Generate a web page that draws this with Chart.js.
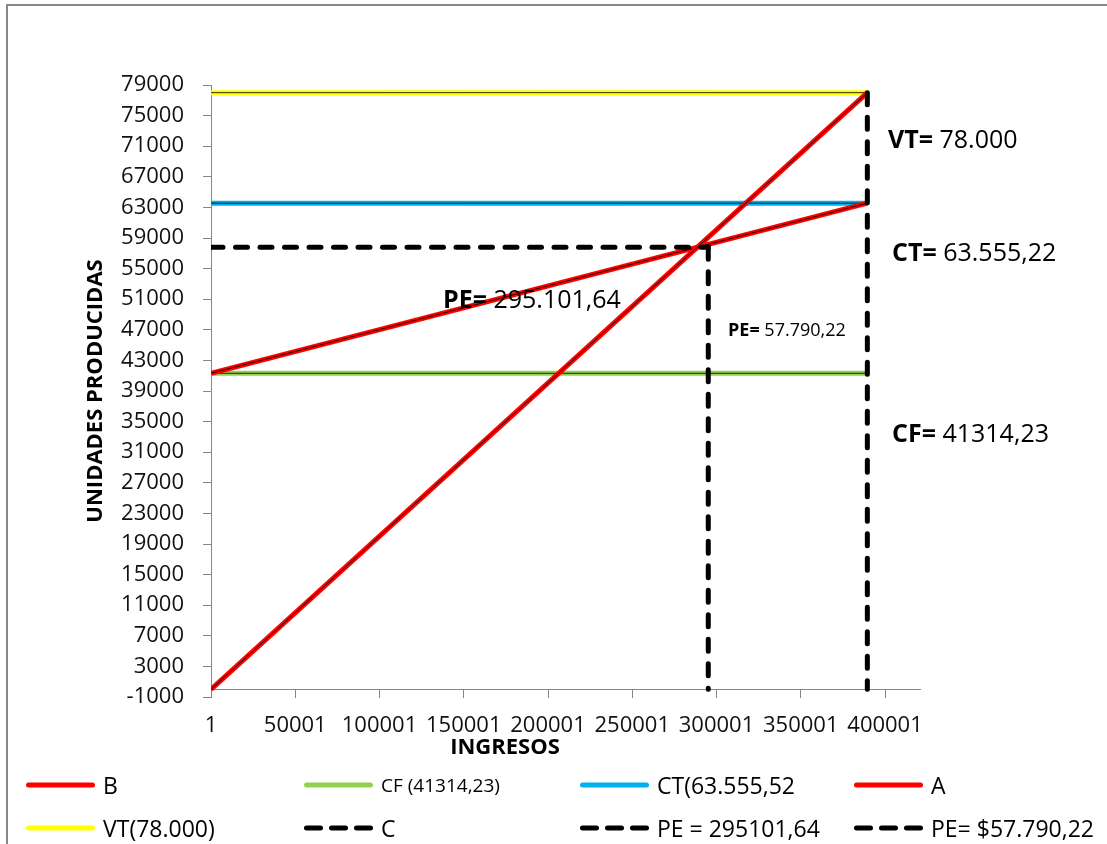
<!DOCTYPE html>
<html>
<head>
<meta charset="utf-8">
<title>Punto de equilibrio</title>
<script src="https://cdn.jsdelivr.net/npm/chart.js@4.4.0/dist/chart.umd.min.js"></script>
<style>
  body { margin: 0; background: #fff; font-family: 'Open Sans', sans-serif; }
  #wrap { position: relative; width: 1107px; height: 844px; overflow: hidden; }
  #frame { position: absolute; left: 6px; top: 4px; width: 1200px; height: 1000px;
           border-left: 2px solid #878787; border-top: 2px solid #878787; }
  #box { position: absolute; left: 0; top: 0; width: 1107px; height: 844px; }
  .item { position: absolute; display: flex; align-items: center; height: 30px;
          margin-top: -15px; color: #000; font-size: 23px; white-space: nowrap; }
  .item svg { margin-right: 7px; }
</style>
</head>
<body>
<div id="wrap">
  <div id="frame"></div>
  <div id="box"><canvas id="peChart"></canvas></div>
  <div id="legend"></div>
</div>
<script>
// valores del grafico
const xTicks = [1, 50001, 100001, 150001, 200001, 250001, 300001, 350001, 400001];
const yTicks = [-1000, 3000, 7000, 11000, 15000, 19000, 23000, 27000, 31000, 35000, 39000,
                43000, 47000, 51000, 55000, 59000, 63000, 67000, 71000, 75000, 79000];

const xEnds = [1, 389500];              // primera y ultima unidad
const serieB = [41314.23, 63555.22];     // costo total
const serieCF = [41314.23, 41314.23];    // costo fijo
const serieCT = [63555.22, 63555.22];
const serieA = [0, 78000];               // ingresos
const serieVT = [78000, 78000];

const lineaC = [[389500, 78000], [389500, 0]];
const lineaPEu = [[295101.64, 57790.22], [295101.64, 0]];
const lineaPEi = [[1, 57790.22], [295101.64, 57790.22]];

const names = ['B', 'CF (41314,23)', 'CT(63.555,52', 'A', 'VT(78.000)', 'C', 'PE = 295101,64', 'PE= $57.790,22'];

Chart.defaults.font.family = "'Open Sans', sans-serif";

const toPts = ys => ys.map((y, i) => ({ x: xEnds[i], y: y }));
const pairPts = arr => arr.map(p => ({ x: p[0], y: p[1] }));

const solid = [
  { name: names[0], data: toPts(serieB),  color: '#ff0000', order: 14 },
  { name: names[1], data: toPts(serieCF), color: '#92d050', order: 18 },
  { name: names[2], data: toPts(serieCT), color: '#00b0f0', order: 20 },
  { name: names[3], data: toPts(serieA),  color: '#ff0000', order: 12 },
  { name: names[4], data: toPts(serieVT), color: '#ffff00', order: 22 }
];
const dashed = [
  { name: names[5], data: pairPts(lineaC) },
  { name: names[6], data: pairPts(lineaPEu) },
  { name: names[7], data: pairPts(lineaPEi) }
];

const datasets = [];
solid.forEach(s => {
  datasets.push({ label: s.name, data: s.data, borderColor: s.color, borderWidth: 5,
                  pointRadius: 0, showLine: true, order: s.order, legendColor: s.color });
  // trazo negro fino por el centro de cada linea
  datasets.push({ label: '', data: s.data, borderColor: 'rgba(0,0,0,0.8)', borderWidth: 1,
                  pointRadius: 0, showLine: true, order: s.order - 1 });
});
dashed.forEach((s, i) => {
  datasets.push({ label: s.name, data: s.data, borderColor: '#000', borderWidth: 5,
                  borderDash: [12, 12.5], borderCapStyle: 'round', pointRadius: 0,
                  showLine: true, order: 3 - i, legendColor: '#000', legendDash: true });
});

// textos sobre el grafico
const notes = [
  { x: 888, y: 141, bold: 'VT=', text: '78.000', size: 25 },
  { x: 892, y: 254, bold: 'CT=', text: '63.555,22', size: 25 },
  { x: 892, y: 435, bold: 'CF=', text: '41314,23', size: 25 },
  { x: 443, y: 301, bold: 'PE=', text: '295.101,64', size: 25 },
  { x: 728, y: 331, bold: 'PE=', text: '57.790,22', size: 18 }
];

const notesPlugin = {
  id: 'notes',
  afterDraw(chart) {
    const ctx = chart.ctx;
    ctx.save();
    ctx.fillStyle = '#000';
    ctx.textBaseline = 'middle';
    ctx.textAlign = 'left';
    notes.forEach(n => {
      ctx.font = `bold ${n.size}px 'Open Sans'`;
      ctx.fillText(n.bold, n.x, n.y);
      const w = ctx.measureText(n.bold + ' ').width;
      ctx.font = `${n.size}px 'Open Sans'`;
      ctx.fillText(n.text, n.x + w, n.y);
    });
    ctx.font = "bold 22px 'Open Sans'";
    ctx.textAlign = 'center';
    ctx.fillText('INGRESOS', 505, 748);
    ctx.restore();
  }
};

const axisGray = '#868686';
const chart = new Chart(document.getElementById('peChart'), {
  type: 'scatter',
  data: { datasets: datasets },
  options: {
    responsive: true,
    maintainAspectRatio: false,
    animation: false,
    layout: { padding: { left: 83, top: 85, right: 187, bottom: 147 } },
    plugins: { legend: { display: false }, tooltip: { enabled: false } },
    scales: {
      x: {
        type: 'linear',
        position: { y: 0 },
        min: 1,
        max: 420750,
        afterBuildTicks: s => { s.ticks = xTicks.map(v => ({ value: v })); },
        grid: { drawOnChartArea: false, drawTicks: true, tickLength: 8, color: axisGray },
        border: { color: axisGray, width: 1 },
        ticks: { color: '#111', font: { size: 22 }, padding: 15, maxRotation: 0,
                 autoSkip: false, callback: v => String(v) }
      },
      y: {
        min: -1000,
        max: 79000,
        afterBuildTicks: s => { s.ticks = yTicks.map(v => ({ value: v })); },
        afterFit: s => { s.width = 128; },
        grid: { drawOnChartArea: false, drawTicks: true, tickLength: 8, color: axisGray },
        border: { color: axisGray, width: 1 },
        ticks: { color: '#111', font: { size: 22 }, padding: 19, callback: v => String(v) },
        title: { display: true, text: 'UNIDADES PRODUCIDAS', color: '#000',
                 font: { size: 22, weight: 'bold' }, padding: 0 }
      }
    }
  },
  plugins: [notesPlugin]
});

// leyenda en dos filas de cuatro columnas
const slots = [[25, 785], [303, 785], [579, 785], [853, 785],
               [25, 828], [303, 828], [579, 828], [853, 828]];
const legend = document.getElementById('legend');
chart.data.datasets.filter(d => d.legendColor).forEach((d, i) => {
  const item = document.createElement('div');
  item.className = 'item';
  item.style.left = slots[i][0] + 'px';
  item.style.top = slots[i][1] + 'px';
  if (d.label.startsWith('CF')) item.style.fontSize = '19px';
  const dash = d.legendDash ? 'stroke-dasharray="14 11"' : '';
  item.innerHTML =
    `<svg width="71" height="10"><line x1="3.5" y1="5" x2="67.5" y2="5" stroke="${d.legendColor}" ` +
    `stroke-width="5" stroke-linecap="round" ${dash}/></svg><span>${d.label}</span>`;
  legend.appendChild(item);
});
</script>
</body>
</html>
